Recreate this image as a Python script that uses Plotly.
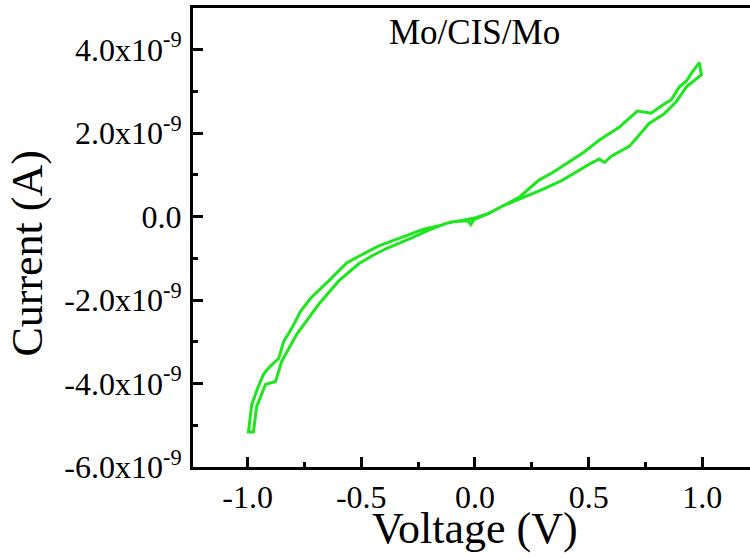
import numpy as np
import plotly.graph_objects as go

voltage = [-0.02, 0.06, 0.12, 0.194, 0.28, 0.34, 0.41, 0.48, 0.546, 0.634, 0.714, 0.775, 0.824, 0.863,
           0.899, 0.93, 0.956, 0.987, 0.996,
           0.93, 0.885, 0.83, 0.767, 0.72, 0.68, 0.60, 0.57, 0.546, 0.50, 0.44, 0.383, 0.30, 0.2, 0.12,
           0.06, 0.0, -0.018, -0.03, -0.101, -0.159, -0.216, -0.247, -0.304, -0.36, -0.423, -0.50, -0.564,
           -0.643, -0.722, -0.767, -0.80, -0.841, -0.863, -0.900, -0.930, -0.955, -0.982, -0.996,
           -0.974, -0.960, -0.921, -0.877, -0.850, -0.784, -0.687, -0.599, -0.511, -0.45, -0.392,
           -0.278, -0.189, -0.12, -0.05, 0.0]
current_nA = [-0.10, 0.07, 0.25, 0.46, 0.87, 1.05, 1.30, 1.55, 1.83, 2.14, 2.53, 2.48, 2.67, 2.80,
              3.11, 3.25, 3.47, 3.69, 3.40,
              3.11, 2.75, 2.45, 2.24, 1.95, 1.69, 1.45, 1.30, 1.38, 1.25, 1.05, 0.87, 0.66, 0.44, 0.25,
              0.08, -0.03, -0.19, -0.10, -0.12, -0.22, -0.29, -0.34, -0.46, -0.58, -0.70, -0.92, -1.11,
              -1.54, -1.95, -2.27, -2.62, -2.99, -3.40, -3.58, -3.78, -4.10, -4.51, -5.16,
              -5.16, -4.55, -4.02, -3.95, -3.47, -2.82, -2.10, -1.54, -1.13, -0.93, -0.77,
              -0.51, -0.29, -0.15, -0.08, -0.03]

x_ticks = [-1.0, -0.5, 0.0, 0.5, 1.0]
x_ticklabels = ["-1.0", "-0.5", "0.0", "0.5", "1.0"]
y_ticks = [-6e-9, -4e-9, -2e-9, 0.0, 2e-9, 4e-9]
y_ticklabels = ["-6.0x10<sup>-9</sup>", "-4.0x10<sup>-9</sup>", "-2.0x10<sup>-9</sup>", "0.0",
                "2.0x10<sup>-9</sup>", "4.0x10<sup>-9</sup>"]
label_text = "Mo/CIS/Mo"
x_title = "Voltage (V)"
y_title = "Current (A)"

current = np.array(current_nA) * 1e-9

fig = go.Figure()
fig.add_trace(go.Scatter(x=voltage, y=current, mode="lines",
                         line=dict(color="#1EE61E", width=3), showlegend=False,
                         hoverinfo="skip"))

font_family = "Liberation Serif"
fig.update_layout(
    width=756, height=558,
    margin=dict(l=193, r=0, t=8, b=91),
    paper_bgcolor="white", plot_bgcolor="white",
    font=dict(family=font_family, color="black"),
    annotations=[
        dict(x=0.0, y=4.42e-9, xref="x", yref="y", text=label_text, showarrow=False,
             font=dict(family=font_family, size=35, color="black")),
        dict(x=0.0, y=-0.134, xref="x", yref="paper", text=x_title, showarrow=False,
             xanchor="center", yanchor="middle",
             font=dict(family=font_family, size=44, color="black")),
        dict(x=-0.294, y=0.466, xref="paper", yref="paper", text=y_title, showarrow=False,
             textangle=-90, xanchor="center", yanchor="middle",
             font=dict(family=font_family, size=44, color="black")),
    ],
)
fig.update_xaxes(
    range=[-1.24, 1.236], tickvals=x_ticks, ticktext=x_ticklabels, automargin=False,
    showgrid=False, zeroline=False, showline=True, linecolor="black", linewidth=3, mirror=True,
    ticks="inside", ticklen=10, tickwidth=3, tickcolor="black",
    minor=dict(dtick=0.25, ticks="inside", ticklen=5, tickwidth=3, tickcolor="black", showgrid=False),
    tickfont=dict(family=font_family, size=32),
)
fig.update_yaxes(
    range=[-6e-9, 5e-9], tickvals=y_ticks, ticktext=y_ticklabels, automargin=False,
    showgrid=False, zeroline=False, showline=True, linecolor="black", linewidth=3, mirror=False,
    ticks="inside", ticklen=10, tickwidth=3, tickcolor="black",
    minor=dict(dtick=1e-9, ticks="inside", ticklen=5, tickwidth=3, tickcolor="black", showgrid=False),
    tickfont=dict(family=font_family, size=32), ticklabelstandoff=2,
)

fig.write_html("out.html", config={"displayModeBar": False},
               post_script="document.body.style.margin='0';document.body.style.overflow='hidden';")
